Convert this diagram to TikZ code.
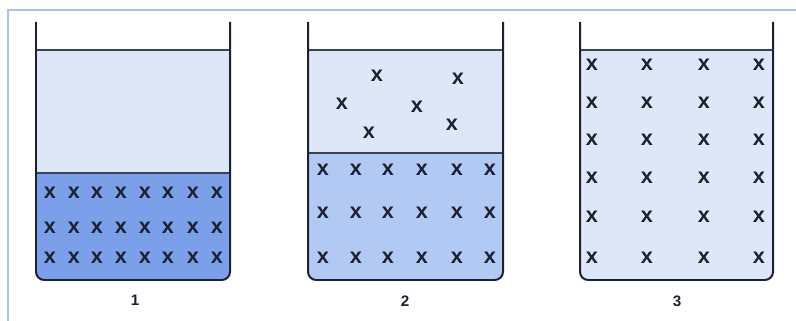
\documentclass[tikz,border=0pt]{standalone}
\usepackage{fontspec}
\setsansfont{Liberation Sans}
\definecolor{frameblue}{HTML}{A9C3E8}
\definecolor{upperliq}{HTML}{DDE7F7}
\definecolor{darkliq}{HTML}{7B9FE9}
\definecolor{paleliq}{HTML}{B1C9F3}
\definecolor{ink}{HTML}{1C2233}
\begin{document}
\begin{tikzpicture}[x=0.03cm, y=-0.03cm,
    wall/.style={draw=ink, line width=1.7pt, rounded corners=7pt},
    level/.style={draw=ink!85, line width=1.1pt},
    mol/.style={inner sep=0pt, text=ink, font=\sffamily\bfseries\fontsize{18.5}{18}\selectfont},
    lbl/.style={inner sep=0pt, text=ink, font=\sffamily\bfseries\fontsize{13}{13}\selectfont}
]
    \useasboundingbox (0,0) rectangle (796,321);
    \draw[frameblue, line width=1.3pt] (8,321) -- (8,10) -- (796,10);

    % beaker 1: two phases, all particles below
    \begin{scope}
        \clip[rounded corners=7pt] (36,22) -- (36,280) -- (230,280) -- (230,22);
        \fill[upperliq] (36,50) rectangle (230,173);
        \fill[darkliq] (36,173) rectangle (230,280);
    \end{scope}
    \draw[level] (36,50) -- (230,50);
    \draw[level] (36,173) -- (230,173);
    \draw[wall] (36,22) -- (36,280) -- (230,280) -- (230,22);
    \foreach \cx in {50,74,97,121,145,168,193,217}
        \foreach \cy in {193,228,258}
            \node[mol] (a-\cx-\cy) at (\cx,\cy) {x};
    \node[lbl] (n1) at (135,300) {1};

    % beaker 2: some particles in the upper phase
    \begin{scope}
        \clip[rounded corners=7pt] (308,22) -- (308,280) -- (503,280) -- (503,22);
        \fill[upperliq] (308,50) rectangle (503,153);
        \fill[paleliq] (308,153) rectangle (503,280);
    \end{scope}
    \draw[level] (308,50) -- (503,50);
    \draw[level] (308,153) -- (503,153);
    \draw[wall] (308,22) -- (308,280) -- (503,280) -- (503,22);
    \foreach \cx in {323,356,388,422,457,490}
        \foreach \cy in {170,213,258}
            \node[mol] (b-\cx-\cy) at (\cx,\cy) {x};
    \node[mol] (b-u1) at (377,76) {x};
    \node[mol] (b-u2) at (458,79) {x};
    \node[mol] (b-u3) at (342,104) {x};
    \node[mol] (b-u4) at (417,107) {x};
    \node[mol] (b-u5) at (452,125) {x};
    \node[mol] (b-u6) at (369,133) {x};
    \node[lbl] (n2) at (405,301) {2};

    % beaker 3: one phase, particles everywhere
    \begin{scope}
        \clip[rounded corners=7pt] (580,22) -- (580,280) -- (773,280) -- (773,22);
        \fill[upperliq] (580,50) rectangle (773,280);
    \end{scope}
    \draw[level] (580,50) -- (773,50);
    \draw[wall] (580,22) -- (580,280) -- (773,280) -- (773,22);
    \foreach \cx in {592,647,704,759}
        \foreach \cy in {65,103,140,178,217,258}
            \node[mol] (c-\cx-\cy) at (\cx,\cy) {x};
    \node[lbl] (n3) at (677,301) {3};
\end{tikzpicture}
\end{document}
